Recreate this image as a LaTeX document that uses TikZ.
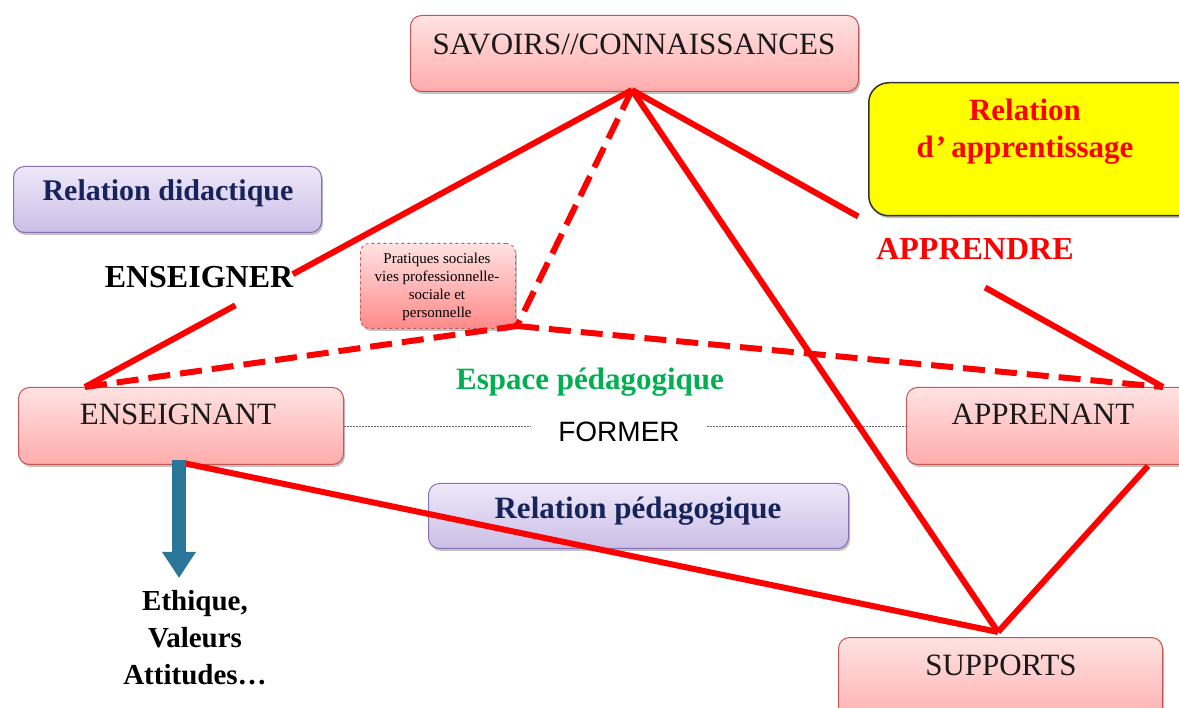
\documentclass[tikz,border=0pt]{standalone}
\usepackage{fontspec}
\setmainfont{Liberation Serif}
\newfontfamily\sansf{Liberation Sans}
\usetikzlibrary{shadows,arrows.meta,calc}
\definecolor{pinktop}{RGB}{255,226,226}
\definecolor{pinkbot}{RGB}{255,172,172}
\definecolor{pinkedge}{RGB}{196,86,84}
\definecolor{lavtop}{RGB}{238,232,249}
\definecolor{lavbot}{RGB}{204,190,230}
\definecolor{lavedge}{RGB}{138,112,180}
\definecolor{navy}{RGB}{22,36,90}
\definecolor{redline}{RGB}{255,0,0}
\definecolor{espgreen}{RGB}{0,176,80}
\definecolor{arrowblue}{RGB}{41,118,153}
\definecolor{yel}{RGB}{255,255,0}
\begin{document}
\begin{tikzpicture}[x=1pt,y=-1pt,
  shadowed/.style={drop shadow={shadow xshift=1.5pt,shadow yshift=-2.5pt,opacity=0.35,fill=black!70}},
  pinkbox/.style={shadowed,rounded corners=11pt,draw=pinkedge,line width=1pt,top color=pinktop,bottom color=pinkbot,anchor=north west,inner sep=0pt},
  lavbox/.style={shadowed,rounded corners=11pt,draw=lavedge,line width=1pt,top color=lavtop,bottom color=lavbot,anchor=north west,inner sep=0pt},
  yelbox/.style={shadowed,rounded corners=20pt,draw=black!80,line width=1.5pt,fill=yel,anchor=north west,inner sep=0pt},
  praxbox/.style={shadowed,rounded corners=9pt,draw=pinkedge,dashed,line width=0.8pt,top color=pinktop,bottom color=pinkbot!80!red,anchor=north west,inner sep=0pt},
  boxtext/.style={font=\fontsize{31}{36}\selectfont,text=black!90,inner sep=0pt},
  boldtext/.style={font=\fontsize{31}{37}\selectfont\bfseries,inner sep=0pt,align=center},
  redl/.style={draw=redline,line width=6pt},
  redd/.style={draw=redline,line width=6pt,dash pattern=on 22pt off 10pt},
  formerline/.style={draw=black!60,line width=0.8pt,dash pattern=on 2pt off 1pt}
]
\useasboundingbox (0,0) rectangle (1179,708);

% boxes
\node[pinkbox,minimum width=448pt,minimum height=76pt] (sav) at (410,15) {};
\node[yelbox,minimum width=330pt,minimum height=133pt] (yb) at (868,82) {};
\node[lavbox,minimum width=308pt,minimum height=66pt] (did) at (13,166) {};
\node[praxbox,minimum width=155pt,minimum height=85pt] (prax) at (360,243) {};
\node[pinkbox,minimum width=325pt,minimum height=77pt] (ens) at (18,387) {};
\node[pinkbox,minimum width=290pt,minimum height=77pt] (app) at (906,387) {};
\node[lavbox,minimum width=420pt,minimum height=65pt] (ped) at (428,483) {};
\node[pinkbox,minimum width=324pt,minimum height=90pt] (sup) at (838,637) {};

% box texts
\node[boxtext] (savt) at (634,44) {SAVOIRS//CONNAISSANCES};
\node[boxtext] (enst) at (178,414) {ENSEIGNANT};
\node[boxtext] (appt) at (1043,414) {APPRENANT};
\node[boxtext] (supt) at (1001,665) {SUPPORTS};
\node[boldtext,text=redline] (ybt) at (1025,132) {Relation\\d\kern2pt'\,apprentissage};
\node[boldtext,text=navy,font=\fontsize{30}{36}\selectfont\bfseries] (didt) at (168,193) {Relation didactique};
\node[boldtext,text=navy] (pedt) at (638,511) {Relation pédagogique};
\node[font=\fontsize{15}{18}\selectfont,align=center,inner sep=0pt] (praxt) at (437,287) {Pratiques sociales\\vies professionnelle-\\sociale et\\personnelle};

% free labels
\node[boldtext,font=\fontsize{32}{37}\selectfont\bfseries] (ensg) at (199,277) {ENSEIGNER};
\node[boldtext,text=redline,font=\fontsize{32}{37}\selectfont\bfseries] (appr) at (975,249) {APPRENDRE};
\node[boldtext,text=espgreen] (esp) at (590,382) {Espace pédagogique};
\node[font=\sansf\fontsize{28}{32}\selectfont,inner xsep=27pt,inner ysep=0pt] (former) at (619,432) {FORMER};

% FORMER line
\draw[formerline] (ens.east) -- (ens.east -| former.west);
\draw[formerline] (former.east |- app.west) -- (app.west);

% coordinates of the triangle
\coordinate (S) at (632,90);
\coordinate (E1) at (85,387);
\coordinate (A1) at (1163,387);
\coordinate (P) at (517,326);
\coordinate (E2) at (183,463);
\coordinate (A2) at (1148,466);
\coordinate (Su) at (998,632);
\coordinate (g1) at ($(S)!0.62!(E1)$);
\coordinate (g2) at ($(S)!0.725!(E1)$);
\coordinate (g3) at ($(S)!0.426!(A1)$);
\coordinate (g4) at ($(S)!0.665!(A1)$);

% red lines
\draw[redl] (S) -- (g1);
\draw[redl] (g2) -- (E1);
\draw[redl] (S) -- (g3);
\draw[redl] (g4) -- (A1);
\draw[redl] (S) -- (Su);
\draw[redl] (E2) -- (Su);
\draw[redl] (A2) -- (Su);
\draw[redd] (S) -- (P);
\draw[redd] (E1) -- (P);
\draw[redd] (P) -- (A1);

% blue arrow
\coordinate (btip) at (179,578);
\draw[draw=arrowblue,line width=14pt,-{Triangle[length=26pt,width=32pt]}] (179,460) -- (btip);
\node[boldtext,font=\fontsize{29}{37}\selectfont\bfseries] (eth) at (195,638) {Ethique,\\Valeurs\\Attitudes\ldots};
\end{tikzpicture}
\end{document}
